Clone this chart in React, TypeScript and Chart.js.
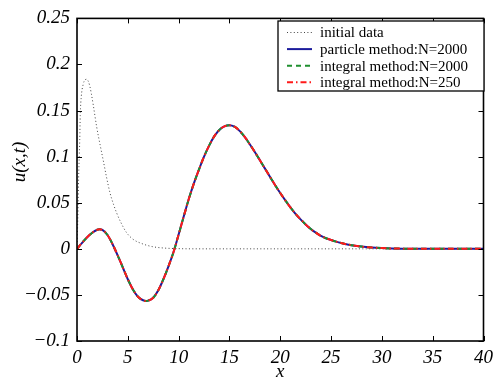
import React, { useEffect, useRef } from "react";
import { Chart, registerables } from "chart.js";

Chart.register(...registerables);

// ---- data ----
const initialX = [0, 0.05, 0.1, 0.16, 0.22, 0.27, 0.32, 0.42, 0.6, 0.8, 0.95, 1.1, 1.25, 1.4, 1.6, 1.94, 2.27, 2.59, 2.9, 3.24, 3.6, 3.9, 4.3, 4.85, 5.5, 6.5, 7.5, 8.5, 10, 12, 15, 20, 25, 30, 35, 40];
const initialY = [0, 0.02, 0.042, 0.077, 0.1, 0.118, 0.145, 0.165, 0.178, 0.1835, 0.184, 0.182, 0.177, 0.169, 0.156, 0.132, 0.113, 0.0955, 0.078, 0.061, 0.048, 0.039, 0.029, 0.018, 0.0105, 0.0052, 0.0022, 0.0009, 0.0002, 0, 0, 0, 0, 0, 0, 0];

const solutionX = [0, 0.5, 1, 1.5, 2, 2.2, 2.5, 3, 3.5, 4, 4.5, 5, 5.5, 6, 6.5, 6.8, 7, 7.5, 8, 8.5, 9, 9.5, 10, 10.5, 11, 11.5, 12, 12.5, 13, 13.5, 14, 14.5, 15, 15.5, 16, 16.5, 17, 17.5, 18, 18.5, 19, 19.5, 20, 20.5, 21, 21.5, 22, 22.5, 23, 23.5, 24, 24.5, 25, 25.5, 26, 26.5, 27, 28, 29, 30, 31, 32, 34, 36, 38, 40];
const particleY = [0, 0.0065, 0.0125, 0.0175, 0.0207, 0.0212, 0.0205, 0.015, 0.005, -0.007, -0.02, -0.033, -0.044, -0.052, -0.0558, -0.0565, -0.0562, -0.053, -0.045, -0.033, -0.019, -0.0035, 0.0155, 0.035, 0.054, 0.071, 0.086, 0.1, 0.112, 0.122, 0.129, 0.1328, 0.134, 0.1325, 0.128, 0.1215, 0.1135, 0.105, 0.096, 0.087, 0.078, 0.069, 0.0605, 0.0525, 0.045, 0.038, 0.032, 0.0265, 0.0215, 0.0175, 0.014, 0.0115, 0.0095, 0.0078, 0.0063, 0.005, 0.004, 0.0024, 0.0014, 0.0008, 0.0004, 0.0002, 0.00005, 0, 0, 0];
const integral2000Y = [0, 0.0065, 0.0125, 0.0175, 0.0207, 0.0212, 0.0205, 0.015, 0.005, -0.007, -0.02, -0.033, -0.044, -0.052, -0.0558, -0.0565, -0.0562, -0.053, -0.045, -0.033, -0.019, -0.0035, 0.0155, 0.035, 0.054, 0.071, 0.086, 0.1, 0.112, 0.122, 0.129, 0.1328, 0.134, 0.1325, 0.128, 0.1215, 0.1135, 0.105, 0.096, 0.087, 0.078, 0.069, 0.0605, 0.0525, 0.045, 0.038, 0.032, 0.0265, 0.0215, 0.0175, 0.014, 0.0115, 0.0095, 0.0078, 0.0063, 0.005, 0.004, 0.0024, 0.0014, 0.0008, 0.0004, 0.0002, 0.00005, 0, 0, 0];
const integral250Y = [0, 0.0065, 0.0125, 0.0175, 0.0207, 0.0212, 0.0205, 0.015, 0.005, -0.007, -0.02, -0.033, -0.044, -0.052, -0.0558, -0.0565, -0.0562, -0.053, -0.045, -0.033, -0.019, -0.0035, 0.0155, 0.035, 0.054, 0.071, 0.086, 0.1, 0.112, 0.122, 0.129, 0.1328, 0.134, 0.1325, 0.128, 0.1215, 0.1135, 0.105, 0.096, 0.087, 0.078, 0.069, 0.0605, 0.0525, 0.045, 0.038, 0.032, 0.0265, 0.0215, 0.0175, 0.014, 0.0115, 0.0095, 0.0078, 0.0063, 0.005, 0.004, 0.0024, 0.0014, 0.0008, 0.0004, 0.0002, 0.00005, 0, 0, 0];

const seriesLabels = ["initial data", "particle method:N=2000", "integral method:N=2000", "integral method:N=250"];

const xTickValues = [0, 5, 10, 15, 20, 25, 30, 35, 40];
const xTickLabels = ["0", "5", "10", "15", "20", "25", "30", "35", "40"];
const yTickValues = [-0.1, -0.05, 0, 0.05, 0.1, 0.15, 0.2, 0.25];
const yTickLabels = ["\u22120.1", "\u22120.05", "0", "0.05", "0.1", "0.15", "0.2", "0.25"];

const xTitle = "x";
const yTitle = "u(x,t)";

const SERIF = "\"Liberation Serif\"";

function pts(xs: number[], ys: number[]) {
  return xs.map((x, i) => ({ x, y: ys[i] }));
}

const decorPlugin = {
  id: "decor",
  afterDatasetsDraw(chart: any) {
    const { ctx, chartArea: a, scales } = chart;
    ctx.save();
    // ticks inside on all four sides
    ctx.strokeStyle = "#000";
    ctx.lineWidth = 1;
    const L = 5;
    const line = (x1: number, y1: number, x2: number, y2: number) => {
      ctx.beginPath();
      ctx.moveTo(x1, y1);
      ctx.lineTo(x2, y2);
      ctx.stroke();
    };
    scales.x.ticks.forEach((t: any) => {
      const p = Math.round(scales.x.getPixelForValue(t.value)) + 0.5;
      line(p, a.bottom, p, a.bottom - L);
      line(p, a.top, p, a.top + L);
    });
    scales.y.ticks.forEach((t: any) => {
      const p = Math.round(scales.y.getPixelForValue(t.value)) + 0.5;
      line(a.left, p, a.left + L, p);
      line(a.right, p, a.right - L, p);
    });
    // frame
    ctx.lineWidth = 1.6;
    ctx.strokeRect(a.left, a.top, a.right - a.left, a.bottom - a.top);

    // legend
    const bx = 278, by = 21, bw = 206, bh = 70;
    ctx.fillStyle = "#fff";
    ctx.fillRect(bx, by, bw, bh);
    ctx.lineWidth = 1.3;
    ctx.strokeStyle = "#000";
    ctx.strokeRect(bx, by, bw, bh);
    ctx.font = `15px ${SERIF}`;
    ctx.textBaseline = "middle";
    ctx.textAlign = "left";
    chart.data.datasets.forEach((ds: any, i: number) => {
      const y = 32.5 + i * 16.6;
      ctx.save();
      ctx.strokeStyle = ds.borderColor;
      ctx.lineWidth = ds.borderWidth;
      ctx.setLineDash(ds.borderDash || []);
      ctx.beginPath();
      ctx.moveTo(287, y);
      ctx.lineTo(312, y);
      ctx.stroke();
      ctx.restore();
      ctx.fillStyle = "#000";
      ctx.fillText(ds.label, 320, y + 1);
    });

    // axis titles
    ctx.fillStyle = "#000";
    ctx.font = `italic 19px ${SERIF}`;
    ctx.textAlign = "center";
    ctx.textBaseline = "middle";
    ctx.fillText(xTitle, (a.left + a.right) / 2, 372);
    ctx.save();
    ctx.translate(20, 162);
    ctx.rotate(-Math.PI / 2);
    ctx.fillText(yTitle, 0, 0);
    ctx.restore();
    ctx.restore();
  },
};

export default function App() {
  const ref = useRef<HTMLCanvasElement | null>(null);
  useEffect(() => {
    if (!ref.current) return;
    const chart = new Chart(ref.current, {
      type: "line",
      data: {
        datasets: [
          {
            label: seriesLabels[0],
            data: pts(initialX, initialY),
            borderColor: "#444444",
            borderWidth: 1,
            borderDash: [1, 2.4],
            pointRadius: 0,
            cubicInterpolationMode: "monotone",
            order: 4,
          },
          {
            label: seriesLabels[1],
            data: pts(solutionX, particleY),
            borderColor: "#1c1c9c",
            borderWidth: 2,
            pointRadius: 0,
            cubicInterpolationMode: "monotone",
            order: 3,
          },
          {
            label: seriesLabels[2],
            data: pts(solutionX, integral2000Y),
            borderColor: "#1f8f2f",
            borderWidth: 2,
            borderDash: [5, 4],
            pointRadius: 0,
            cubicInterpolationMode: "monotone",
            order: 2,
          },
          {
            label: seriesLabels[3],
            data: pts(solutionX, integral250Y),
            borderColor: "#ff1a1a",
            borderWidth: 2,
            borderDash: [6, 3, 1.5, 3],
            pointRadius: 0,
            cubicInterpolationMode: "monotone",
            order: 1,
          },
        ],
      },
      options: {
        animation: false,
        responsive: false,
        devicePixelRatio: 1,
        layout: { padding: { left: 0, top: 17, right: 10, bottom: 0 } },
        plugins: { legend: { display: false }, tooltip: { enabled: false } },
        scales: {
          x: {
            type: "linear",
            min: 0,
            max: 40,
            grid: { display: false, drawTicks: false },
            border: { display: false },
            afterBuildTicks: (s: any) => {
              s.ticks = xTickValues.map((v) => ({ value: v }));
            },
            afterFit: (s: any) => {
              s.height = 40;
            },
            ticks: {
              padding: 6,
              color: "#000",
              maxRotation: 0,
              autoSkip: false,
              font: { family: "Liberation Serif", size: 19, style: "italic" },
              callback: (v: any) => {
                const i = xTickValues.indexOf(Number(v));
                return i >= 0 ? xTickLabels[i] : "";
              },
            },
          },
          y: {
            type: "linear",
            min: -0.1,
            max: 0.25,
            grid: { display: false, drawTicks: false },
            border: { display: false },
            afterBuildTicks: (s: any) => {
              s.ticks = yTickValues.map((v) => ({ value: v }));
            },
            afterFit: (s: any) => {
              s.width = 77;
            },
            ticks: {
              padding: 7,
              color: "#000",
              autoSkip: false,
              font: { family: "Liberation Serif", size: 19, style: "italic" },
              callback: (v: any) => {
                const i = yTickValues.findIndex((t) => Math.abs(t - Number(v)) < 1e-9);
                return i >= 0 ? yTickLabels[i] : "";
              },
            },
          },
        },
      },
      plugins: [decorPlugin],
    } as any);
    return () => chart.destroy();
  }, []);
  return (
    <div style={{ position: "absolute", left: 0, top: 0, width: 499, height: 381, background: "#fff" }}>
      <canvas ref={ref} width={499} height={381} />
    </div>
  );
}
